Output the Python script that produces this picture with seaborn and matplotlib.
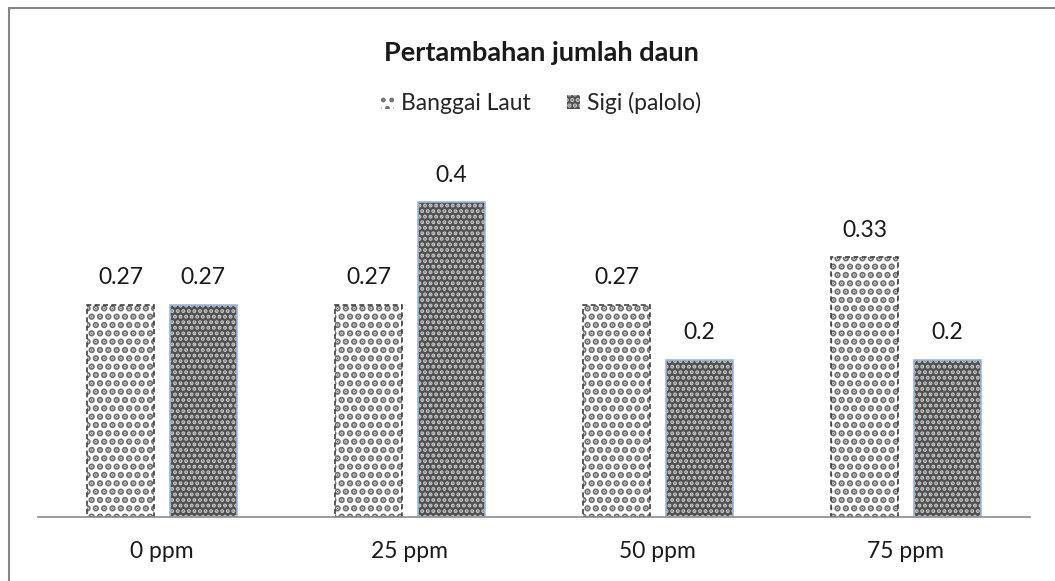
import matplotlib
matplotlib.use("Agg")
import matplotlib.pyplot as plt
import seaborn as sns
import pandas as pd
from matplotlib.patches import Rectangle
from matplotlib.lines import Line2D

categories = ["0 ppm", "25 ppm", "50 ppm", "75 ppm"]
series_names = ["Banggai Laut", "Sigi (palolo)"]
banggai = [0.27, 0.27, 0.27, 0.33]
sigi = [0.27, 0.4, 0.2, 0.2]
labels_banggai = ["0.27", "0.27", "0.27", "0.33"]
labels_sigi = ["0.27", "0.4", "0.2", "0.2"]

df = pd.DataFrame({
    "dosis": categories * 2,
    "nilai": banggai + sigi,
    "seri": [series_names[0]] * 4 + [series_names[1]] * 4,
})

sns.set_theme(style="white")
plt.rcParams["font.family"] = ["Lato", "DejaVu Sans"]
plt.rcParams["hatch.linewidth"] = 2.2

fig = plt.figure(figsize=(10.55, 5.81), dpi=100)
ax = fig.add_axes([0.036, 0.110, 0.940, 0.650])

sns.barplot(data=df, x="dosis", y="nilai", hue="seri", order=categories,
            hue_order=series_names, width=0.667, gap=0.19, ax=ax,
            legend=False, palette=["white", "#5c5c5c"])

styles = {
    0: dict(face="white", hatch_col="#6e6e6e", hatch="..", hlw=3.3,
            edge="#404040", ls=(0, (3, 2))),
    1: dict(face="#505050", hatch_col="#c4c4c4", hatch="...", hlw=2.0,
            edge="#9db7dd", ls="-"),
}


def apply_style(p, s):
    p.set_facecolor(s["face"])
    p.set_edgecolor(s["hatch_col"])
    p.set_hatch(s["hatch"])
    p.set_linewidth(0)
    if hasattr(p, "set_hatch_linewidth"):
        p.set_hatch_linewidth(s["hlw"])


n = len(categories)
for i, p in enumerate(ax.patches[: 2 * n]):
    s = styles[i // n]
    apply_style(p, s)
    r = Rectangle((p.get_x(), p.get_y()), p.get_width(), p.get_height(),
                  fill=False, edgecolor=s["edge"], linewidth=1.2,
                  linestyle=s["ls"], zorder=p.get_zorder() + 0.1)
    ax.add_patch(r)

for j, cont in enumerate(ax.containers[:2]):
    labs = labels_banggai if j == 0 else labels_sigi
    ax.bar_label(cont, labels=labs, padding=12, fontsize=16.5, color="#1a1a1a")

ax.set_ylim(0, 0.48)
ax.set_xlim(-0.5, 3.5)
ax.set_yticks([])
ax.set_xlabel("")
ax.set_ylabel("")
ax.tick_params(axis="x", length=0, labelsize=16.5, pad=17, colors="#1a1a1a")
for side in ["left", "right", "top"]:
    ax.spines[side].set_visible(False)
ax.spines["bottom"].set_color("#8c8c8c")
ax.spines["bottom"].set_linewidth(1.2)

fig.text(0.513, 0.908, "Pertambahan jumlah daun", ha="center", va="center",
         fontsize=19.5, fontweight="bold", color="#1a1a1a")

handles = []
for k in range(2):
    h = Rectangle((0, 0), 1, 1)
    apply_style(h, styles[k])
    handles.append(h)
fig.legend(handles, series_names, loc="center", bbox_to_anchor=(0.513, 0.822),
           ncol=2, frameon=False, fontsize=16.5, handlelength=0.55, handleheight=0.55,
           columnspacing=1.6, handletextpad=0.3)

fig.add_artist(Line2D([0.0085, 0.0085], [0, 0.986], transform=fig.transFigure,
                      color="#868686", linewidth=1.5))
fig.add_artist(Line2D([0.0085, 1.0], [0.986, 0.986], transform=fig.transFigure,
                      color="#868686", linewidth=1.5))

fig.savefig("out.png", dpi=100)
